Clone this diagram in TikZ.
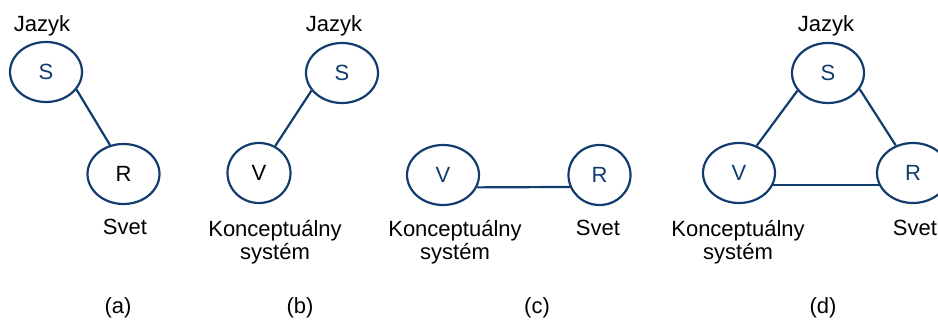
\documentclass[tikz,border=0pt]{standalone}
\usepackage{fontspec}
\setmainfont{Liberation Sans}
\usetikzlibrary{shapes.geometric}
\definecolor{dblue}{RGB}{18,60,110}
\begin{document}
\begin{tikzpicture}[x=1pt,y=-1pt,
  every node/.style={font=\fontsize{22}{24}\selectfont},
  circ/.style={ellipse,draw=dblue,line width=2.2pt,inner sep=0pt,minimum width=72pt,minimum height=60pt,text=dblue},
  blk/.style={text=black},
  link/.style={draw=dblue,line width=2.2pt},
  lbl/.style={anchor=base,align=center,inner sep=0pt}]
\useasboundingbox (0,0) rectangle (938,320);
% (a)
\node[circ] (aS) at (46,72) {S};
\node[circ,blk] (aR) at (123.5,174) {R};
\node[lbl] (aJ) at (42,32) {Jazyk};
\node[lbl] (aSv) at (125,235) {Svet};
\draw[link] (aS.-30) -- (aR.115);
% (b)
\node[circ] (bS) at (342,73) {S};
\node[circ,blk,minimum width=63pt] (bV) at (259,173) {V};
\node[lbl] (bJ) at (334,32) {Jazyk};
\node[lbl] (bK) at (275,260) {Konceptuálny\\[-0.5pt]systém};
\draw[link] (bS.210) -- (bV.59);
% (c)
\node[circ] (cV) at (443,175) {V};
\node[circ,minimum width=62pt] (cR) at (599.5,175) {R};
\node[lbl] (cK) at (455,260) {Konceptuálny\\[-0.5pt]systém};
\node[lbl] (cSv) at (598,236) {Svet};
\draw[link] (cV.-20) -- (cR.-158);
% (d)
\node[circ] (dS) at (828,73) {S};
\node[circ] (dV) at (739,173) {V};
\node[circ] (dR) at (913,173) {R};
\node[lbl] (dJ) at (826,32) {Jazyk};
\node[lbl] (dK) at (738,260) {Konceptuálny\\[-0.5pt]systém};
\node[lbl] (dSv) at (915,236) {Svet};
\draw[link] (dS.210) -- (dV.57);
\draw[link] (dS.-27) -- (dR.122);
\draw[link] (dV.-20) -- (dR.-160);
% captions
\node[lbl] (ca) at (118,314) {(a)};
\node[lbl] (cb) at (300,314) {(b)};
\node[lbl] (cc) at (537,314) {(c)};
\node[lbl] (cd) at (823,314) {(d)};
\end{tikzpicture}
\end{document}
